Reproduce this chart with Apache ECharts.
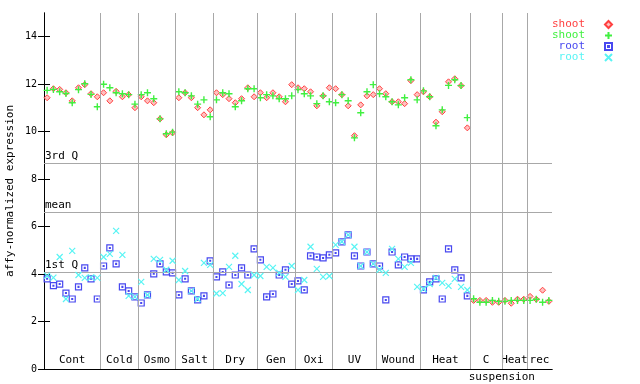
<!DOCTYPE html>
<html>
<head>
<meta charset="utf-8">
<script src="https://cdn.jsdelivr.net/npm/echarts@6/dist/echarts.min.js"></script>
<style>
html,body{margin:0;padding:0;background:#fff;}
#chart{width:640px;height:384px;}
</style>
</head>
<body>
<div id="chart"></div>
<script>
// ---- data ----
const categories = ['Cont','Cold','Osmo','Salt','Dry','Gen','Oxi','UV','Wound','Heat','C','Heat','rec'];
const groupSizes = [9,6,6,6,7,6,6,7,7,8,5,4,4];
const subLabel = 'suspension';
const refNames = ['3rd Q','mean','1st Q'];
const refValues = [8.69, 6.62, 4.09];
const yTicks = [0,2,4,6,8,10,12,14];

const shootRed = [11.43,11.81,11.78,11.64,11.30,11.85,11.98,11.60,11.47,
  11.64,11.30,11.70,11.47,11.56,11.01,
  11.47,11.30,11.22,10.54,9.87,9.95,
  11.43,11.64,11.43,11.01,10.71,10.92,
  11.64,11.56,11.39,11.22,11.39,11.85,11.47,
  11.64,11.43,11.64,11.47,11.26,11.98,
  11.85,11.81,11.68,11.09,11.51,11.85,
  11.81,11.56,11.09,9.83,11.13,11.51,11.56,
  11.81,11.60,11.26,11.26,11.18,12.15,11.56,
  11.68,11.47,10.40,10.84,12.10,12.23,11.94,10.16,
  2.89,2.89,2.89,2.81,2.81,
  2.89,2.77,2.94,2.94,
  3.06,2.94,3.32,2.85];
const shootGreen = [11.74,11.78,11.68,11.61,11.22,11.77,12.02,11.57,11.05,
  12.00,11.85,11.64,11.60,11.56,11.16,
  11.56,11.64,11.39,10.54,9.91,9.98,
  11.68,11.64,11.51,11.16,11.34,10.63,
  11.34,11.64,11.60,11.05,11.30,11.81,11.81,
  11.43,11.56,11.51,11.39,11.39,11.51,
  11.77,11.60,11.51,11.18,11.51,11.26,
  11.22,11.56,11.30,9.74,10.80,11.68,11.98,
  11.60,11.47,11.26,11.13,11.43,12.19,11.34,
  11.72,11.47,10.25,10.92,11.95,12.19,11.94,10.59,
  2.96,2.81,2.81,2.89,2.85,
  2.85,2.89,2.89,2.89,
  2.89,2.94,2.81,2.89];
const rootBlue = [3.80,3.51,3.58,3.20,2.95,3.46,4.26,3.80,2.95,
  4.34,5.10,4.43,3.46,3.29,3.04,
  2.78,3.12,4.01,4.43,4.09,4.05,
  3.12,3.80,3.29,2.91,3.08,4.56,
  3.88,4.09,3.54,3.96,4.26,3.96,5.06,
  4.60,3.04,3.16,3.96,4.18,3.58,
  3.71,3.33,4.77,4.72,4.68,4.81,
  4.89,5.36,5.65,4.77,4.34,4.93,4.43,
  4.34,2.91,4.93,4.39,4.72,4.64,4.64,
  3.33,3.67,3.80,2.95,5.06,4.18,3.84,3.08];
const rootCyan = [3.93,3.85,4.72,2.95,4.98,3.96,3.84,3.86,3.84,
  4.72,4.85,5.82,4.81,3.08,3.04,
  3.67,3.12,4.64,4.60,4.18,4.56,
  3.75,4.13,3.29,2.95,4.47,4.39,
  3.18,3.20,4.30,4.77,3.58,3.33,3.96,
  3.92,4.30,4.26,4.05,3.88,4.34,
  3.33,3.75,5.15,4.22,3.88,3.92,
  5.23,5.36,5.65,5.15,4.34,4.93,4.43,
  4.18,4.05,5.06,4.64,4.30,4.47,3.46,
  3.37,3.58,3.84,3.63,3.50,3.80,3.46,3.33];

// ---- derived ----
const total = groupSizes.reduce((a,b)=>a+b,0);
const bounds = [];
const centers = [];
const labelMap = {};
let acc = 0;
groupSizes.forEach((n,i)=>{
  const c = acc + n/2;
  centers.push(c);
  labelMap[c] = categories[i];
  acc += n;
  if (acc < total) bounds.push(acc);
});
const subIndex = categories.indexOf('C');
const subPos = bounds[subIndex];

const toPts = arr => arr.map((v,i)=>[i+0.5, v]);
const FONT = 'DejaVu Sans Mono';

const symPlus = 'path://M3.5,0V7M0,3.5H7';
const symSquare = 'path://M0,0H7V7H0Z M3,3H4V4H3Z';
const symCross = 'path://M0,0L6,6M6,0L0,6';

const seriesDefs = [
  {name:'shoot1', label:'shoot', data:shootRed, color:'#ff4040', symbol:'diamond', size:6, fill:'#ffc0c0', bw:1},
  {name:'shoot2', label:'shoot', data:shootGreen, color:'#40f040', symbol:symPlus, size:7, fill:'rgba(0,0,0,0)', bw:1.4},
  {name:'root1', label:'root', data:rootBlue, color:'#4848f0', symbol:symSquare, size:6, fill:'rgba(0,0,0,0)', bw:1.2},
  {name:'root2', label:'root', data:rootCyan, color:'#58f4f4', symbol:symCross, size:6, fill:'rgba(0,0,0,0)', bw:1.2}
];

const series = [{
  type:'scatter', data:[], z:1, silent:true,
  markLine:{
    silent:true, symbol:'none', animation:false,
    lineStyle:{color:'#a8a8a8', type:'solid', width:1},
    label:{show:false},
    data: bounds.map(b=>({xAxis:b, label:{show:false}})).concat(
      refValues.map((v,i)=>({yAxis:v, label:{show:true, formatter:refNames[i], position:'insideStartTop',
        distance:[1,1], color:'#000', fontFamily:FONT, fontSize:11}})))
  }
}];
seriesDefs.forEach((s,k)=>{
  series.push({
    type:'scatter', name:s.name, z:2+k, data:toPts(s.data),
    symbol:s.symbol, symbolSize:s.size,
    itemStyle:{color:s.fill, borderColor:s.color, borderWidth:s.bw, opacity:1},
    emphasis:{disabled:true}
  });
});

const legends = seriesDefs.map((s,k)=>({
  data:[{name:s.name, textStyle:{color:s.color}}],
  formatter:()=>s.label,
  orient:'vertical', align:'right', right:27, top:19 + 11*k,
  padding:0, itemWidth:7, itemHeight:7,
  textStyle:{fontFamily:FONT, fontSize:11, padding:[0,15,0,0]},
  selectedMode:false
}));

const option = {
  animation:false,
  backgroundColor:'#fff',
  grid:{left:44, right:88, top:13, bottom:15, containLabel:false, outerBoundsMode:'none'},
  legend:legends,
  xAxis:[
    {type:'value', min:0, max:total, position:'bottom',
     axisLine:{show:true, lineStyle:{color:'#000', width:1}},
     axisTick:{show:false}, splitLine:{show:false},
     axisLabel:{inside:true, margin:3, customValues:centers, formatter:v=>labelMap[v] || '',
       color:'#000', fontFamily:FONT, fontSize:11}},
    {type:'value', min:0, max:total, position:'top',
     axisLine:{show:true, lineStyle:{color:'#000', width:1}},
     axisTick:{show:false}, splitLine:{show:false}, axisLabel:{show:false}},
    {type:'value', min:0, max:total, position:'bottom',
     axisLine:{show:false}, axisTick:{show:false}, splitLine:{show:false},
     axisLabel:{margin:3, customValues:[subPos], formatter:()=>subLabel,
       color:'#000', fontFamily:FONT, fontSize:11}}
  ],
  yAxis:[
    {type:'value', min:0, max:15, position:'left',
     axisLine:{show:true, lineStyle:{color:'#000', width:1}},
     axisTick:{show:true, inside:true, length:6, customValues:yTicks, lineStyle:{color:'#000'}},
     axisLabel:{margin:7, customValues:yTicks, color:'#000', fontFamily:FONT, fontSize:10},
     splitLine:{show:false},
     name:'affy-normalized expression', nameLocation:'middle', nameGap:28, nameMoveOverlap:false,
     nameTextStyle:{color:'#000', fontFamily:FONT, fontSize:11}},
    {type:'value', min:0, max:15, position:'right',
     axisLine:{show:true, lineStyle:{color:'#000', width:1}},
     axisTick:{show:true, inside:true, length:6, customValues:yTicks, lineStyle:{color:'#000'}},
     axisLabel:{show:false}, splitLine:{show:false}}
  ],
  series:series
};

const chart = echarts.init(document.getElementById('chart'), null, {renderer:'canvas'});
chart.setOption(option);
</script>
</body>
</html>
